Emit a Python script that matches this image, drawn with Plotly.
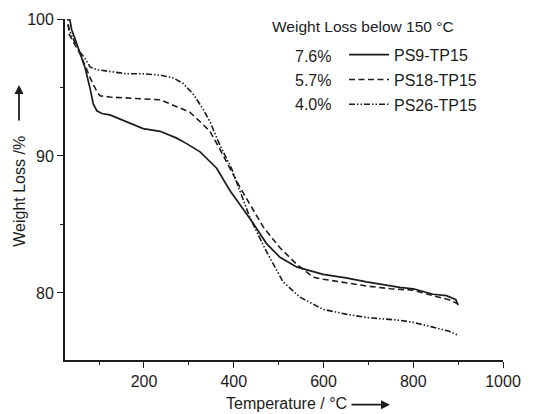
import plotly.graph_objects as go

# Thermogravimetric curves: temperature (°C) vs. remaining weight (%)
temp_ps9 = [33, 39, 46, 57, 69, 80, 87, 95, 106, 124, 161, 198, 236, 273, 295, 325,
            362, 391, 443, 473, 503, 540, 599, 650, 696, 770, 800, 844, 874, 895, 900]
wt_ps9 = [100.3, 99.2, 98.6, 97.6, 96.4, 94.9, 93.8, 93.3, 93.1, 93.0, 92.5, 92.0, 91.8,
          91.3, 90.9, 90.3, 89.1, 87.5, 85.1, 83.6, 82.6, 81.9, 81.35, 81.1, 80.8, 80.4,
          80.3, 79.9, 79.8, 79.5, 79.1]

temp_ps18 = [30, 33, 43, 57, 69, 80, 95, 102, 124, 160, 198, 236, 273, 302, 325, 347,
             369, 391, 414, 466, 503, 540, 577, 599, 650, 696, 750, 800, 844, 880, 900]
wt_ps18 = [100.3, 98.9, 98.3, 97.5, 96.6, 95.7, 94.7, 94.4, 94.3, 94.25, 94.2, 94.1,
           93.6, 93.2, 92.5, 91.8, 90.5, 89.1, 87.7, 84.8, 83.3, 82.1, 81.15, 81.0,
           80.75, 80.5, 80.3, 80.2, 79.8, 79.5, 79.2]

temp_ps26 = [30, 36, 46, 57, 69, 80, 95, 124, 161, 198, 236, 265, 287, 310, 332, 347,
             369, 395, 436, 470, 510, 547, 599, 650, 696, 770, 800, 844, 880, 900]
wt_ps26 = [99.6, 99.0, 98.3, 97.6, 97.1, 96.5, 96.3, 96.15, 96.0, 96.0, 95.9, 95.7,
           95.3, 94.5, 93.4, 92.5, 90.8, 89.1, 85.5, 83.2, 80.8, 79.7, 78.8, 78.45,
           78.2, 78.0, 77.85, 77.5, 77.2, 76.9]

series_names = ["PS9-TP15", "PS18-TP15", "PS26-TP15"]
loss_below_150 = ["7.6%", "5.7%", "4.0%"]

x_ticks = [200, 400, 600, 800, 1000]
y_ticks = [80, 90, 100]

INK = "#1c1c1c"
FONT = "Liberation Sans, Arial, sans-serif"

fig = go.Figure()
styles = [
    dict(dash="solid", width=1.7),
    dict(dash="6px,3.5px", width=1.6),
    dict(dash="6px,2px,1.5px,2px,1.5px,2px", width=1.6),
]
for i, (t, w) in enumerate([(temp_ps9, wt_ps9), (temp_ps18, wt_ps18), (temp_ps26, wt_ps26)]):
    fig.add_trace(go.Scatter(
        x=t, y=w, mode="lines", name=series_names[i], legendgroup=f"g{i}",
        line=dict(color=INK, **styles[i]),
    ))

fig.update_layout(
    width=534, height=414,
    margin=dict(l=65, r=31, t=19, b=54),
    paper_bgcolor="white", plot_bgcolor="white",
    font=dict(family=FONT, size=16, color=INK),
    showlegend=True,
    legend=dict(
        x=0.637, y=0.945, xanchor="left", yanchor="top",
        bgcolor="rgba(0,0,0,0)", font=dict(size=16, color=INK),
        tracegroupgap=1, itemwidth=40,
    ),
)

fig.update_xaxes(
    range=[24, 1000], tickvals=x_ticks, ticks="outside", ticklen=6, tickwidth=1.3,
    tickcolor=INK, showline=True, linecolor=INK, linewidth=1.8, showgrid=False,
    zeroline=False, tickfont=dict(size=16, color=INK),
    minor=dict(dtick=100, tick0=0, ticks="outside", ticklen=3, tickwidth=1.2, tickcolor=INK),
)
fig.update_yaxes(
    range=[75.1, 100], tickvals=y_ticks, ticks="outside", ticklen=6, tickwidth=1.3,
    tickcolor=INK, showline=True, linecolor=INK, linewidth=1.8, showgrid=False,
    zeroline=False, tickfont=dict(size=16, color=INK),
    minor=dict(dtick=5, tick0=0, ticks="outside", ticklen=3, tickwidth=1.2, tickcolor=INK),
)

annotations = [
    dict(text="Weight Loss below 150 °C", x=0.468, y=0.977, xref="paper", yref="paper",
         xanchor="left", yanchor="middle", showarrow=False, font=dict(size=15.5, color=INK)),
    dict(text="Temperature / °C", x=0.505, y=-0.129, xref="paper", yref="paper",
         xanchor="center", yanchor="middle", showarrow=False, font=dict(size=16, color=INK)),
    dict(text="", x=0.742, y=-0.131, xref="paper", yref="paper", ax=-40, ay=0,
         showarrow=True, arrowhead=2, arrowsize=1, arrowwidth=1.8, arrowcolor=INK),
    dict(text="Weight Loss /%", x=-0.103, y=0.496, xref="paper", yref="paper",
         xanchor="center", yanchor="middle", textangle=-90, showarrow=False,
         font=dict(size=16, color=INK)),
    dict(text="", x=-0.105, y=1 - (85 - 19) / 341, xref="paper", yref="paper", ax=0, ay=37,
         showarrow=True, arrowhead=2, arrowsize=1, arrowwidth=1.8, arrowcolor=INK),
]
for j, pct in enumerate(loss_below_150):
    y_px = 56 + 24 * j
    annotations.append(dict(
        text=pct, x=(333 - 65) / 438, y=1 - (y_px - 19) / 341, xref="paper", yref="paper",
        xanchor="right", yanchor="middle", showarrow=False, font=dict(size=16, color=INK),
    ))
fig.update_layout(annotations=annotations)

fig.write_html("out.html")
